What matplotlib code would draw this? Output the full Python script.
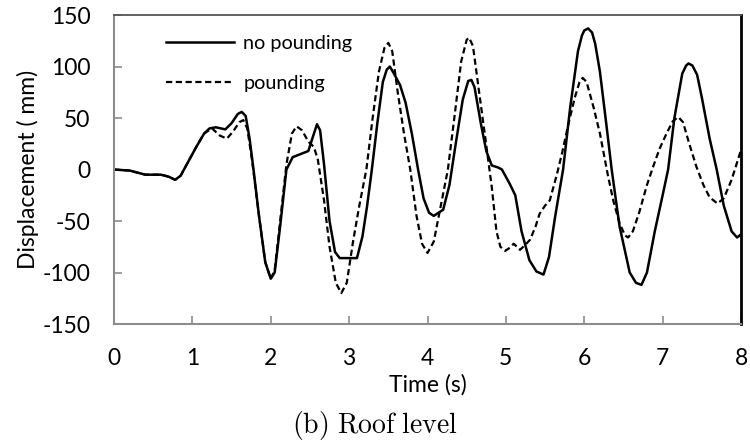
import matplotlib.pyplot as plt

# roof displacement, no pounding (mm)
t_nop = [0.0, 0.2, 0.4, 0.5, 0.6, 0.7, 0.78, 0.85, 0.95, 1.05, 1.15, 1.22, 1.3,
         1.42, 1.5, 1.58, 1.63, 1.68, 1.73, 1.78, 1.85, 1.93, 2.0, 2.05, 2.12,
         2.2, 2.28, 2.38, 2.48, 2.53, 2.59, 2.63, 2.68, 2.75, 2.82, 2.88, 3.0,
         3.1, 3.17, 3.23, 3.29, 3.36, 3.43, 3.48, 3.52, 3.58, 3.65, 3.72, 3.8, 3.88,
         3.95, 4.02, 4.08, 4.2, 4.28, 4.36, 4.45, 4.52, 4.56, 4.6, 4.68, 4.75,
         4.82, 4.9, 4.95, 5.05, 5.12, 5.2, 5.3, 5.39, 5.48, 5.55, 5.63, 5.73,
         5.82, 5.92, 5.97, 6.0, 6.05, 6.1, 6.14, 6.2, 6.28, 6.35, 6.45, 6.58, 6.66, 6.73,
         6.8, 6.9, 7.0, 7.07, 7.15, 7.25, 7.3, 7.33, 7.38, 7.44, 7.5, 7.6, 7.69, 7.78,
         7.88, 7.95, 8.0]
d_nop = [0, -1, -5, -5, -5, -7, -10, -6, 8, 22, 35, 40, 41,
         39, 45, 54, 56, 52, 30, 0, -45, -90, -106, -100, -55,
         0, 12, 15, 18, 30, 44, 38, 5, -50, -80, -86, -86,
         -86, -65, -35, 0, 45, 85, 97, 100, 92, 82, 65, 35, 0,
         -28, -42, -45, -39, -15, 25, 68, 86, 87, 80, 45, 18,
         4, 2, 0, -14, -25, -60, -88, -99, -102, -85, -45, 0,
         60, 115, 130, 135, 137, 133, 122, 95, 45, 0, -55, -100, -110, -112,
         -100, -60, -25, 0, 50, 93, 101, 103, 101, 92, 70, 30, 0, -35,
         -60, -66, -63]

# roof displacement, pounding (mm)
t_pnd = [0.0, 0.2, 0.4, 0.5, 0.6, 0.7, 0.78, 0.85, 0.95, 1.05, 1.15, 1.25, 1.35,
         1.44, 1.52, 1.6, 1.65, 1.7, 1.76, 1.85, 1.93, 2.0, 2.05, 2.12, 2.2,
         2.27, 2.33, 2.4, 2.48, 2.55, 2.6, 2.68, 2.75, 2.83, 2.9, 2.97, 3.05,
         3.13, 3.22, 3.3, 3.38, 3.45, 3.5, 3.55, 3.62, 3.7, 3.78, 3.86, 3.93,
         4.0, 4.08, 4.17, 4.26, 4.35, 4.43, 4.5, 4.53, 4.58, 4.65, 4.73, 4.82,
         4.88, 4.93, 4.99, 5.05, 5.1, 5.18, 5.25, 5.31, 5.38, 5.43, 5.5, 5.56,
         5.65, 5.72, 5.8, 5.88, 5.94, 5.98, 6.03, 6.12, 6.2, 6.3, 6.37, 6.45,
         6.52, 6.56, 6.62, 6.7, 6.8, 6.88, 6.96, 7.05, 7.13, 7.2, 7.26, 7.34,
         7.43, 7.52, 7.6, 7.7, 7.78, 7.88, 8.0]
d_pnd = [0, -1, -5, -5, -5, -7, -10, -6, 8, 22, 35, 40, 33,
         30, 37, 46, 48, 40, 10, -45, -90, -106, -98, -50, 5,
         35, 42, 38, 27, 22, 10, -30, -75, -110, -120, -110, -70,
         -35, 0, 50, 95, 118, 123, 115, 75, 35, 0, -45, -72,
         -81, -70, -35, 0, 55, 105, 126, 128, 120, 80, 35, -17,
         -60, -75, -79, -76, -72, -78, -73, -68, -55, -43, -35, -30,
         -5, 17, 45, 70, 85, 89, 85, 60, 35, -5, -30, -52,
         -64, -66, -60, -42, -15, 3, 20, 35, 47, 51, 46, 25,
         3, -15, -27, -33, -28, -10, 19]

x_ticks = [0, 1, 2, 3, 4, 5, 6, 7, 8]
y_ticks = [-150, -100, -50, 0, 50, 100, 150]

plt.rcParams['font.family'] = ['Lato', 'DejaVu Sans']
plt.rcParams['mathtext.fontset'] = 'cm'
plt.rcParams['axes.unicode_minus'] = False

fig = plt.figure(figsize=(7.5, 4.43), dpi=100)
ax = fig.add_axes([0.152, 0.2686, 0.836, 0.6974])

ax.plot(t_nop, d_nop, color='black', lw=1.8, label='no pounding')
ax.plot(t_pnd, d_pnd, color='black', lw=1.6, ls=(0, (2.8, 1.6)), label='pounding')

ax.set_xlim(0, 8)
ax.set_ylim(-150, 150)
ax.set_xticks(x_ticks)
ax.set_yticks(y_ticks)
ax.tick_params(direction='in', length=6, width=1.2, color='#8c8c8c', labelsize=16.5)
ax.tick_params(axis='x', pad=17)
ax.tick_params(axis='y', pad=17)
for s in ['left', 'bottom']:
    ax.spines[s].set_color('#8c8c8c')
    ax.spines[s].set_linewidth(1.5)
ax.spines['top'].set_color('#555555')
ax.spines['top'].set_linewidth(1.3)
ax.spines['right'].set_color('black')
ax.spines['right'].set_linewidth(2.0)

ax.set_xlabel('Time (s)', fontsize=16.5, va='center')
ax.xaxis.set_label_coords(0.5, -0.197)
ax.set_ylabel('Displacement ( mm)', fontsize=16.5, va='center')
ax.yaxis.set_label_coords(-0.137, 0.5)

ax.legend(loc='upper left', bbox_to_anchor=(0.083, 0.936), frameon=False,
          fontsize=14.3, handlelength=3.4, handletextpad=0.5, labelspacing=1.15,
          borderpad=0, borderaxespad=0)

fig.text(0.5, 1 - 425 / 443, r'$\mathrm{(b)\ Roof\ level}$', ha='center', va='center', fontsize=20)

fig.savefig('out.png', dpi=100)
